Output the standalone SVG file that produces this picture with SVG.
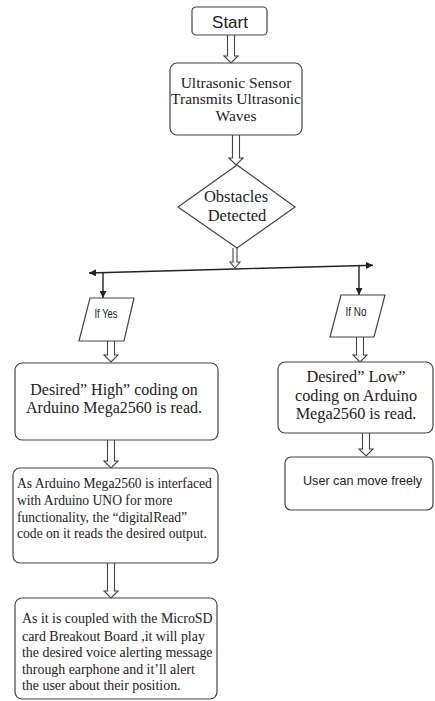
<svg xmlns="http://www.w3.org/2000/svg" width="435" height="701" viewBox="0 0 435 701">
<defs>
<marker id="ah" viewBox="0 0 10 10" refX="10" refY="5" markerWidth="7" markerHeight="7" markerUnits="userSpaceOnUse" orient="auto">
<path d="M0,0 L10,5 L0,10 Z" fill="#222"/>
</marker>
</defs>
<style>
.box{fill:#fff;stroke:#444;stroke-width:1.2}
.hol{fill:#fff;stroke:#444;stroke-width:1.1}
.ln{fill:none;stroke:#222;stroke-width:1.4}
.serif{font-family:"Liberation Serif","Times New Roman",serif;fill:#222}
.sans{font-family:"Liberation Sans",Arial,sans-serif;fill:#222}
.c{text-anchor:middle}
</style>
<rect width="435" height="701" fill="#fff"/>

<g id="connectors">
<path class="hol" d="M227.5,35 V56 H224 L231,63 L238,56 H234.5 V35"/>
<path class="hol" d="M232.5,135 V158 H229 L236,165 L243,158 H239.5 V135"/>
<path class="hol" d="M233,248 V262 H230 L235,268 L240,262 H237 V248"/>
<line class="ln" x1="235" y1="269" x2="89" y2="273" marker-end="url(#ah)"/>
<line class="ln" x1="235" y1="269" x2="373" y2="265.2" marker-end="url(#ah)"/>
<line class="ln" x1="103" y1="272.6" x2="103" y2="298" marker-end="url(#ah)"/>
<line class="ln" x1="359" y1="265.4" x2="359" y2="295" marker-end="url(#ah)"/>
<path class="hol" d="M107.5,341 V355 H104 L111,362 L118,355 H114.5 V341"/>
<path class="hol" d="M356.5,337 V355 H353 L360,362 L367,355 H363.5 V337"/>
<path class="hol" d="M362.5,433 V449 H359 L366,456 L373,449 H369.5 V433"/>
<path class="hol" d="M107.5,440 V461 H104 L111,468 L118,461 H114.5 V440"/>
<path class="hol" d="M107.5,563 V591 H104 L111,598 L118,591 H114.5 V563"/>
</g>

<g id="start">
<rect class="box" x="192" y="7" width="75" height="28" rx="4"/>
<text class="sans c" x="230" y="28" font-size="17">Start</text>
</g>

<g id="transmit">
<rect class="box" x="170" y="63" width="132" height="72" rx="7"/>
<text class="serif c" x="236" y="87.5" font-size="15.5">Ultrasonic Sensor</text>
<text class="serif c" x="236" y="103.5" font-size="15.5">Transmits Ultrasonic</text>
<text class="serif c" x="236" y="121" font-size="15.5">Waves</text>
</g>

<g id="decision">
<polygon class="box" points="237,165 295,207 237,248 178,207"/>
<text class="serif c" x="236" y="202" font-size="16.5">Obstacles</text>
<text class="serif c" x="237" y="221" font-size="16.5">Detected</text>
</g>

<g id="ifyes">
<polygon class="box" points="90,298 134,298 124,341 79,341"/>
<text class="sans c" x="106" y="318" font-size="12" textLength="23" lengthAdjust="spacingAndGlyphs">If Yes</text>
</g>

<g id="ifno">
<polygon class="box" points="341,295 385,295 374,337 330,337"/>
<text class="sans c" x="356" y="316" font-size="12" textLength="21" lengthAdjust="spacingAndGlyphs">If No</text>
</g>

<g id="high">
<rect class="box" x="15" y="363" width="203" height="77" rx="7"/>
<text class="serif c" x="114" y="395" font-size="16">Desired” High” coding on</text>
<text class="serif c" x="114" y="413" font-size="16">Arduino Mega2560 is read.</text>
</g>

<g id="low">
<rect class="box" x="278" y="362" width="155" height="71" rx="7"/>
<text class="serif c" x="356" y="382" font-size="16.3">Desired” Low”</text>
<text class="serif c" x="356" y="401" font-size="16.3">coding on Arduino</text>
<text class="serif c" x="356" y="419" font-size="16.3">Mega2560 is read.</text>
</g>

<g id="free">
<rect class="box" x="285" y="457" width="148" height="53" rx="6"/>
<text class="sans" x="303" y="485" font-size="13" textLength="119" lengthAdjust="spacingAndGlyphs">User can move freely</text>
</g>

<g id="interface">
<rect class="box" x="13" y="468" width="205" height="95" rx="7"/>
<text class="serif" x="17" y="488" font-size="13.6">As Arduino Mega2560 is interfaced</text>
<text class="serif" x="17" y="505" font-size="13.6">with Arduino UNO for more</text>
<text class="serif" x="17" y="521.5" font-size="13.6">functionality, the “digitalRead”</text>
<text class="serif" x="17" y="538" font-size="13.6">code on it reads the desired output.</text>
</g>

<g id="alert">
<rect class="box" x="15" y="598" width="202" height="101" rx="7"/>
<text class="serif" x="22" y="623" font-size="13.9">As it is coupled with the MicroSD</text>
<text class="serif" x="22" y="640.5" font-size="13.9">card Breakout Board ,it will play</text>
<text class="serif" x="22" y="657" font-size="13.9">the desired voice alerting message</text>
<text class="serif" x="22" y="673.5" font-size="13.9">through earphone and it’ll alert</text>
<text class="serif" x="22" y="690" font-size="13.9">the user about their position.</text>
</g>
</svg>
